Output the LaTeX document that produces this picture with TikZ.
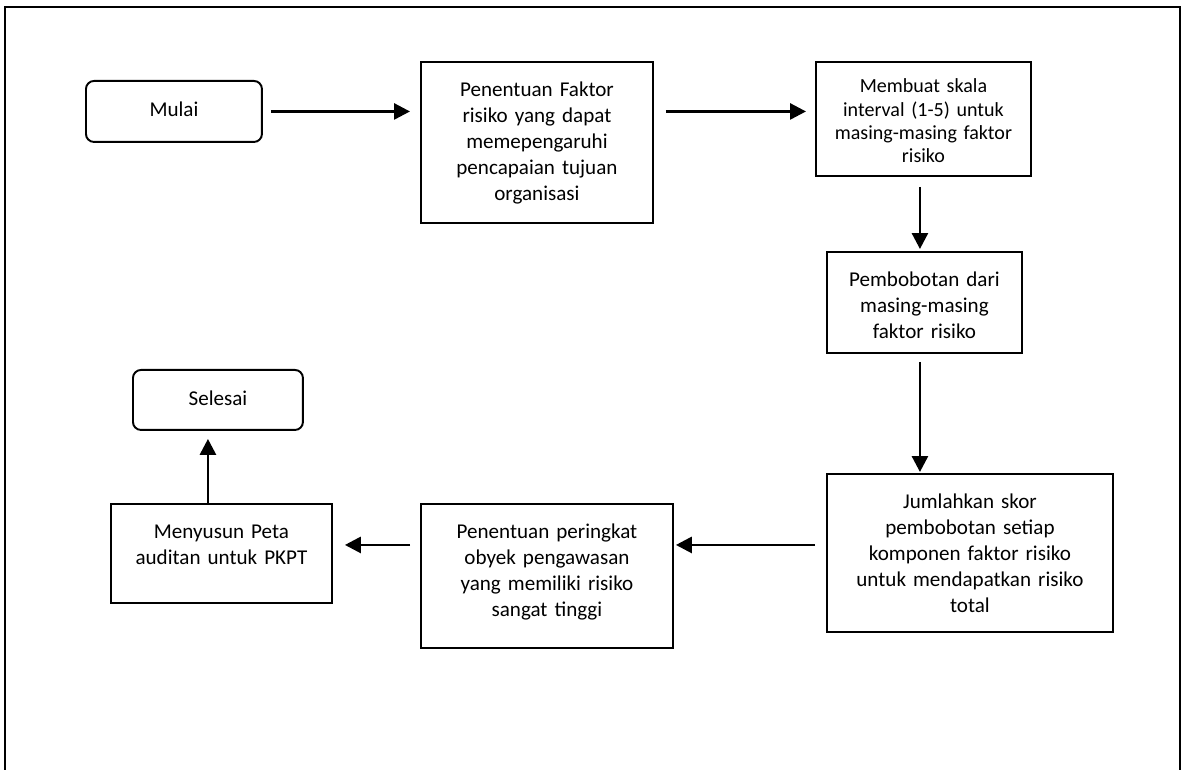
\documentclass[tikz,border=0pt]{standalone}
\usepackage{fontspec}
\setmainfont{Carlito}
\usetikzlibrary{arrows.meta}

\begin{document}
\begin{tikzpicture}[x=0.02cm,y=-0.02cm,
    stepbox/.style 2 args={draw, line width=1.1pt, inner sep=0pt, align=center,
      anchor=north west, text height=0.70cm, text width=#1, text depth=#2,
      font=\fontsize{12}{14.8}\selectfont},
    endbox/.style={rounded corners=0.16cm},
    flow/.style={-{Triangle[length=0.32cm,width=0.32cm]}, line width=1.6pt}]
        \useasboundingbox (0,0) rectangle (1184,770);
        \draw[line width=1.1pt] (5,770) |- (1180,7) -- (1180,770);

        \node (mulai) [stepbox={3.52cm}{0.50cm}, endbox, text height=0.72cm] at (85,80) {Mulai};
        \node (faktor) [stepbox={4.64cm}{2.52cm}] at (420,61)
          {Penentuan Faktor\\ risiko yang dapat\\ memepengaruhi\\ pencapaian tujuan\\ organisasi};
        \node (skala) [stepbox={4.30cm}{1.66cm}, text height=0.62cm,
          font=\fontsize{11.4}{13.2}\selectfont] at (815,61)
          {Membuat skala\\ interval (1-5) untuk\\ masing-masing faktor\\ risiko};
        \node (bobot) [stepbox={3.90cm}{1.32cm}] at (826,251)
          {Pembobotan dari\\ masing-masing\\ faktor risiko};
        \node (jumlah) [stepbox={5.72cm}{2.46cm}] at (826,473)
          {Jumlahkan skor\\ pembobotan setiap\\ komponen faktor risiko\\ untuk mendapatkan risiko\\ total};
        \node (peringkat) [stepbox={5.04cm}{2.18cm}] at (420,503)
          {Penentuan peringkat\\ obyek pengawasan\\ yang memiliki risiko\\ sangat tinggi};
        \node (peta) [stepbox={4.42cm}{1.28cm}] at (110,503)
          {Menyusun Peta\\ auditan untuk PKPT};
        \node (selesai) [stepbox={3.40cm}{0.48cm}, endbox, text height=0.72cm] at (132,369) {Selesai};

        \path[flow]
        (mulai.east) edge [shorten <=0.16cm, shorten >=0.2cm] (mulai.east -| faktor.west)

        (faktor.east |- mulai.east) edge [shorten <=0.24cm, shorten >=0.18cm] (skala.west |- mulai.east)

        ([xshift=-0.07cm]skala.south) edge [shorten <=0.2cm, shorten >=0.04cm]
          ([xshift=-0.07cm]skala.south |- bobot.north)

        ([xshift=-0.09cm]bobot.south) edge [shorten <=0.16cm, shorten >=0.02cm]
          ([xshift=-0.09cm]bobot.south |- jumlah.north)

        ([yshift=0.16cm]jumlah.west) edge [shorten <=0.22cm, shorten >=0.04cm]
          ([yshift=0.16cm]jumlah.west -| peringkat.east)

        ([yshift=0.16cm]jumlah.west -| peringkat.west) edge [shorten <=0.2cm, shorten >=0.24cm]
          ([yshift=0.16cm]jumlah.west -| peta.east)

        ([xshift=-0.27cm]peta.north) edge [shorten >=0.16cm]
          ([xshift=-0.27cm]peta.north |- selesai.south)
        ;
\end{tikzpicture}
\end{document}
